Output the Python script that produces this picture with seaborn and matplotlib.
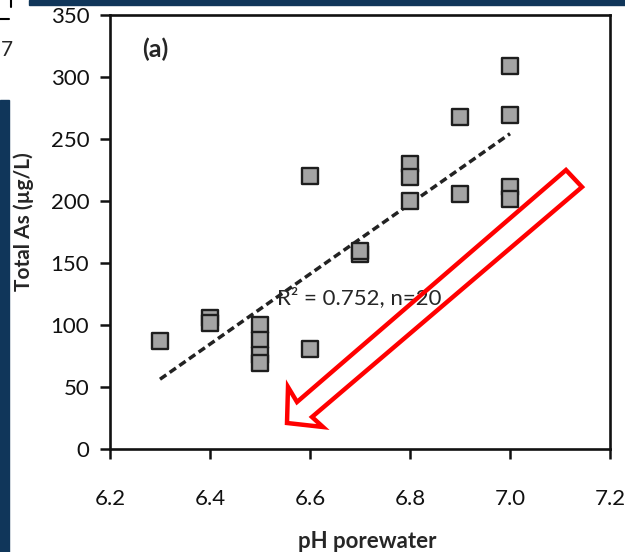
import numpy as np
import pandas as pd
import matplotlib
matplotlib.use("Agg")
import matplotlib.pyplot as plt
import matplotlib.patches as mpatches
import seaborn as sns

# data
ph = [6.3, 6.4, 6.4, 6.5, 6.5, 6.5, 6.5, 6.6, 6.6, 6.7, 6.7,
      6.8, 6.8, 6.8, 6.9, 6.9, 7.0, 7.0, 7.0, 7.0]
total_as = [87, 106, 102, 100, 88, 76, 69, 220, 81, 157, 160,
            230, 219, 200, 268, 206, 309, 269, 211, 202]
x_ticks = [6.2, 6.4, 6.6, 6.8, 7.0, 7.2]
y_ticks = [0, 50, 100, 150, 200, 250, 300, 350]
fit_label = "R\u00b2 = 0.752, n=20"
panel_label = "(a)"

df = pd.DataFrame({"ph": ph, "total_as": total_as})

sns.set_style("ticks")
plt.rcParams['font.family'] = ['Lato', 'DejaVu Sans']

W, H = 625, 552
fig = plt.figure(figsize=(W / 100, H / 100), dpi=100)
ax = fig.add_axes([110 / W, 1 - 449 / H, 500 / W, 434 / H])

# background bits of the slide this was cut from
navy = "#10365a"
fig.patches.append(mpatches.Rectangle((0, 0), 9 / W, 452 / H, transform=fig.transFigure,
                                      color=navy, zorder=0))
fig.patches.append(mpatches.Rectangle((29 / W, 1 - 5 / H), 1, 5 / H, transform=fig.transFigure,
                                      color=navy, zorder=0))
fig.add_artist(plt.Line2D([11 / W, 11 / W], [1, 1 - 7 / H], transform=fig.transFigure,
                          color="black", lw=1.5))
fig.add_artist(plt.Line2D([0, 9 / W], [1 - 19 / H, 1 - 19 / H], transform=fig.transFigure,
                          color="black", lw=1.5))
fig.text(0.5 / W, 1 - 50 / H, "7", fontsize=15, va="center", ha="left")

# regression line (dashed)
sns.regplot(data=df, x="ph", y="total_as", ax=ax, scatter=False, ci=None, truncate=True,
            line_kws=dict(color="#222222", lw=2.5, linestyle=(0, (2.2, 1.2))))

# square markers
sns.scatterplot(data=df, x="ph", y="total_as", ax=ax, marker="s", s=125,
                color="#a3a3a3", edgecolor="#1e1e1e", linewidth=1.7, zorder=3)

ax.set_xlim(6.2, 7.2)
ax.set_ylim(0, 350)
ax.set_xticks(x_ticks)
ax.set_xticklabels([f"{t:.1f}" for t in x_ticks])
ax.set_yticks(y_ticks)
ax.tick_params(axis="both", direction="out", length=7, width=1.8, labelsize=16, colors="#111111")
ax.tick_params(axis="x", pad=22)
ax.tick_params(axis="y", pad=8)
for sp in ax.spines.values():
    sp.set_visible(True)
    sp.set_linewidth(1.9)
    sp.set_color("#111111")

ax.set_xlabel("pH porewater", fontsize=16, fontweight="bold")
ax.set_ylabel("Total As (\u00b5g/L)", fontsize=15, fontweight="bold")
ax.xaxis.set_label_coords(0.514, -0.188)
ax.yaxis.set_label_coords(-0.152, 0.523)

ax.text(6.29, 322, panel_label, fontsize=18, fontweight="bold", ha="center", va="center")
ax.text(6.534, 122, fit_label, fontsize=16, ha="left", va="center")

# hollow red arrow, outline points in pixels
arrow_px = [(287, 423), (288, 387), (297, 402), (566, 170), (582, 187), (312, 417), (323, 427)]
arrow_fig = [(px / W, 1 - py / H) for px, py in arrow_px]
fig.add_artist(mpatches.Polygon(arrow_fig, closed=True, transform=fig.transFigure,
                                facecolor="none", edgecolor="#ff0000", lw=3.2,
                                joinstyle="miter", zorder=5))

fig.savefig("out.png", dpi=100)
